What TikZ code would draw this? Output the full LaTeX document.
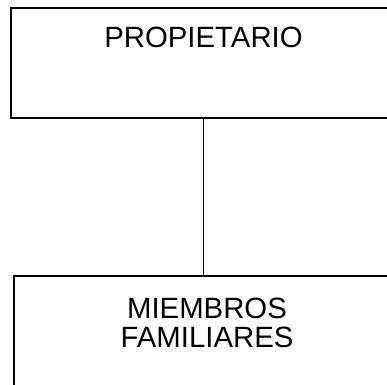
\documentclass[tikz,border=0pt]{standalone}
\usepackage{fontspec}
\setmainfont{Liberation Sans}
\begin{document}
\begin{tikzpicture}[x=0.75pt, y=-0.75pt,
    box/.style={draw, line width=1.5pt, minimum width=385*0.75pt, inner sep=0pt},
    lbl/.style={font=\fontsize{22}{21.75}\selectfont, align=center, inner sep=0pt, anchor=north}]
\useasboundingbox (0,0) rectangle (387,385);

\node[box, minimum height=110*0.75pt] (owner) at (203.5,63) {};
\node[box, minimum height=140*0.75pt] (family) at (207,346) {};

\node[lbl] (ownerlbl) at (203.5,27) {PROPIETARIO};
\node[lbl] (familylbl) at (207,298) {MIEMBROS\\FAMILIARES};

\draw[line width=0.9pt] (owner.south) -- (owner.south |- family.north);

\end{tikzpicture}
\end{document}
